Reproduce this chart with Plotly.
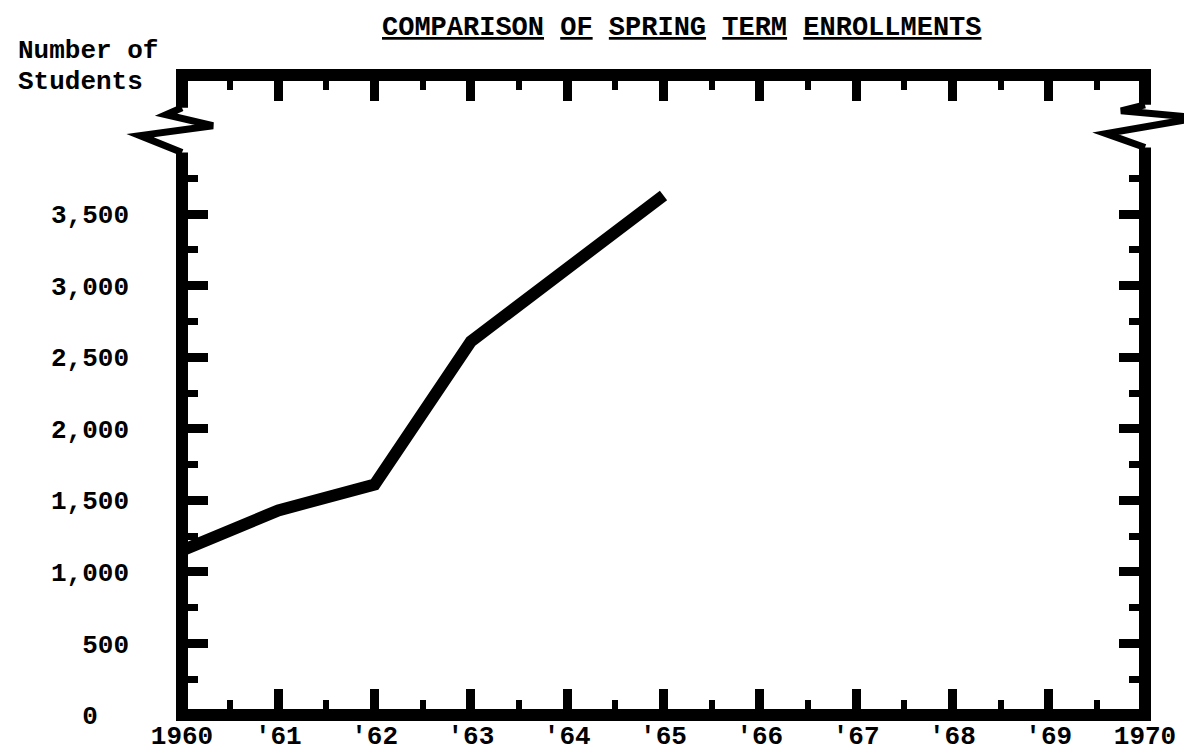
import plotly.graph_objects as go

# ---- data ----
years = [1960, 1961, 1962, 1963, 1965]
enrollment = [1150, 1430, 1610, 2610, 3630]

x_tick_years = [1960, 1961, 1962, 1963, 1964, 1965, 1966, 1967, 1968, 1969, 1970]
x_tick_labels = ["1960", "'61", "'62", "'63", "'64", "'65", "'66", "'67", "'68", "'69", "1970"]
x_minor_years = [1960.5, 1961.5, 1962.5, 1963.5, 1964.5, 1965.5, 1966.5, 1967.5, 1968.5, 1969.5]

y_tick_values = [0, 500, 1000, 1500, 2000, 2500, 3000, 3500]
y_tick_labels = ["0\u00a0\u00a0", "500", "1,000", "1,500", "2,000", "2,500", "3,000", "3,500"]
y_minor_values = [250, 750, 1250, 1750, 2250, 2750, 3250, 3750]

title_words = ["COMPARISON", "OF", "SPRING", "TERM", "ENROLLMENTS"]
y_title_lines = ["Number of", "Students"]

# ---- layout geometry ----
W, H = 1192, 756
L, R, T, B = 174, 55, 67, 45
Y_MAX = 4472
FONT = "Liberation Mono"


def px(x):
    return (x - L) / (W - L - R)


def py(y):
    return (H - B - y) / (H - T - B)


fig = go.Figure()
fig.add_trace(go.Scatter(
    x=years, y=enrollment, mode="lines",
    line=dict(color="black", width=12),
    showlegend=False, hoverinfo="skip",
))

axis_common = dict(
    showgrid=False, zeroline=False, showline=False,
    ticks="inside", mirror="allticks", tickcolor="black",
    tickfont=dict(family=FONT, size=26, color="black", weight="bold"),
)

fig.update_xaxes(
    range=[1960, 1970],
    tickmode="array", tickvals=x_tick_years, ticktext=x_tick_labels,
    ticklen=26, tickwidth=9,
    minor=dict(tickmode="array", tickvals=x_minor_years, ticks="inside",
               ticklen=15, tickwidth=6, tickcolor="black", showgrid=False),
    ticklabelstandoff=2,
    **axis_common,
)
fig.update_yaxes(
    range=[0, Y_MAX],
    tickmode="array", tickvals=y_tick_values, ticktext=y_tick_labels,
    ticklen=26, tickwidth=9,
    minor=dict(tickmode="array", tickvals=y_minor_values, ticks="inside",
               ticklen=16, tickwidth=7, tickcolor="black", showgrid=False),
    ticklabelstandoff=52,
    **axis_common,
)

# frame with axis breaks (decoration)
lb_top, lb_bot = 100, 145
rb_top, rb_bot = 97, 140
frame_lower = (f"M {px(L)},{py(lb_bot)} L 0,0 L 1,0 L 1,{py(rb_bot)}")
frame_upper = (f"M {px(L)},{py(lb_top)} L 0,1 L 1,1 L 1,{py(rb_top)}")
left_zig = [(L, lb_top), (158, 107), (205, 118), (132, 128), (L, lb_bot)]
right_zig = [(W - R, rb_top), (1113, 103), (1190, 110), (1098, 126), (W - R, rb_bot)]


def zig_path(pts):
    return "M " + " L ".join(f"{px(a)},{py(b)}" for a, b in pts)


shapes = [
    dict(type="path", path=frame_lower, xref="paper", yref="paper",
         line=dict(color="black", width=12), layer="above"),
    dict(type="path", path=frame_upper, xref="paper", yref="paper",
         line=dict(color="black", width=12), layer="above"),
    dict(type="path", path=zig_path(left_zig), xref="paper", yref="paper",
         line=dict(color="black", width=7), layer="above"),
    dict(type="path", path=zig_path(right_zig), xref="paper", yref="paper",
         line=dict(color="black", width=7), layer="above"),
]

title_text = " ".join(f"<u>{w}</u>" for w in title_words)
annotations = [
    dict(text=title_text, xref="paper", yref="paper", x=px(674), y=py(20),
         xanchor="center", yanchor="middle", showarrow=False,
         font=dict(family=FONT, size=27, color="black", weight="bold")),
    dict(text=y_title_lines[0], xref="paper", yref="paper", x=px(8), y=py(43),
         xanchor="left", yanchor="middle", showarrow=False,
         font=dict(family=FONT, size=26, color="black", weight="bold")),
    dict(text=y_title_lines[1], xref="paper", yref="paper", x=px(8), y=py(74),
         xanchor="left", yanchor="middle", showarrow=False,
         font=dict(family=FONT, size=26, color="black", weight="bold")),
]

fig.update_layout(
    width=W, height=H,
    margin=dict(l=L, r=R, t=T, b=B, pad=0),
    plot_bgcolor="white", paper_bgcolor="white",
    shapes=shapes, annotations=annotations,
    font=dict(family=FONT, color="black"),
    showlegend=False,
)

fig.write_html("out.html")
